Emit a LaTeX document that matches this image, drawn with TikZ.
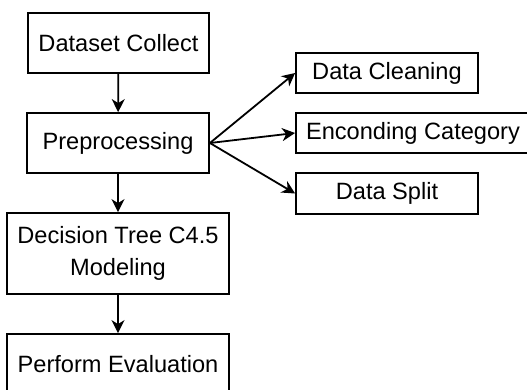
\documentclass[tikz,border=0pt]{standalone}
\usepackage{fontspec}
\setmainfont{Liberation Sans}
\usetikzlibrary{arrows.meta}
\begin{document}
\begin{tikzpicture}[x=1pt,y=-1pt,
  box/.style={draw=black,line width=1.8pt,fill=white,inner sep=0pt,align=center,
    font=\fontsize{23.6}{31.5}\selectfont},
  conn/.style={line width=1.8pt,-{Stealth[length=13pt,width=13pt,inset=4pt]}}]
\useasboundingbox (0,0) rectangle (527,389);
\clip (0,0) rectangle (527,389);
\fill[white] (0,0) rectangle (527,389);
\node[box,minimum width=181pt,minimum height=60pt] (dc) at (118.5,43) {Dataset Collect};
\node[box,minimum width=182pt,minimum height=60pt] (pp) at (118,143) {Preprocessing};
\node[box,minimum width=222pt,minimum height=81pt] (dt) at (118,253.5) {Decision Tree C4.5\\Modeling};
\node[box,minimum width=222pt,minimum height=60pt] (pe) at (118,364) {Perform Evaluation};
\node[box,minimum width=182pt,minimum height=40pt] (cl) at (387,73) {Data Cleaning};
\node[box,minimum width=234pt,minimum height=40pt] (ec) at (413,133) {Enconding Category};
\node[box,minimum width=182pt,minimum height=41pt] (ds) at (387,193.5) {Data Split};
\draw[conn] (dc) -- (pp);
\draw[conn] (pp) -- (dt);
\draw[conn] (dt) -- (pe);
\draw[conn] (pp.east) -- (cl.west);
\draw[conn] (pp.east) -- (ec.west);
\draw[conn] (pp.east) -- (ds.west);
\end{tikzpicture}
\end{document}
